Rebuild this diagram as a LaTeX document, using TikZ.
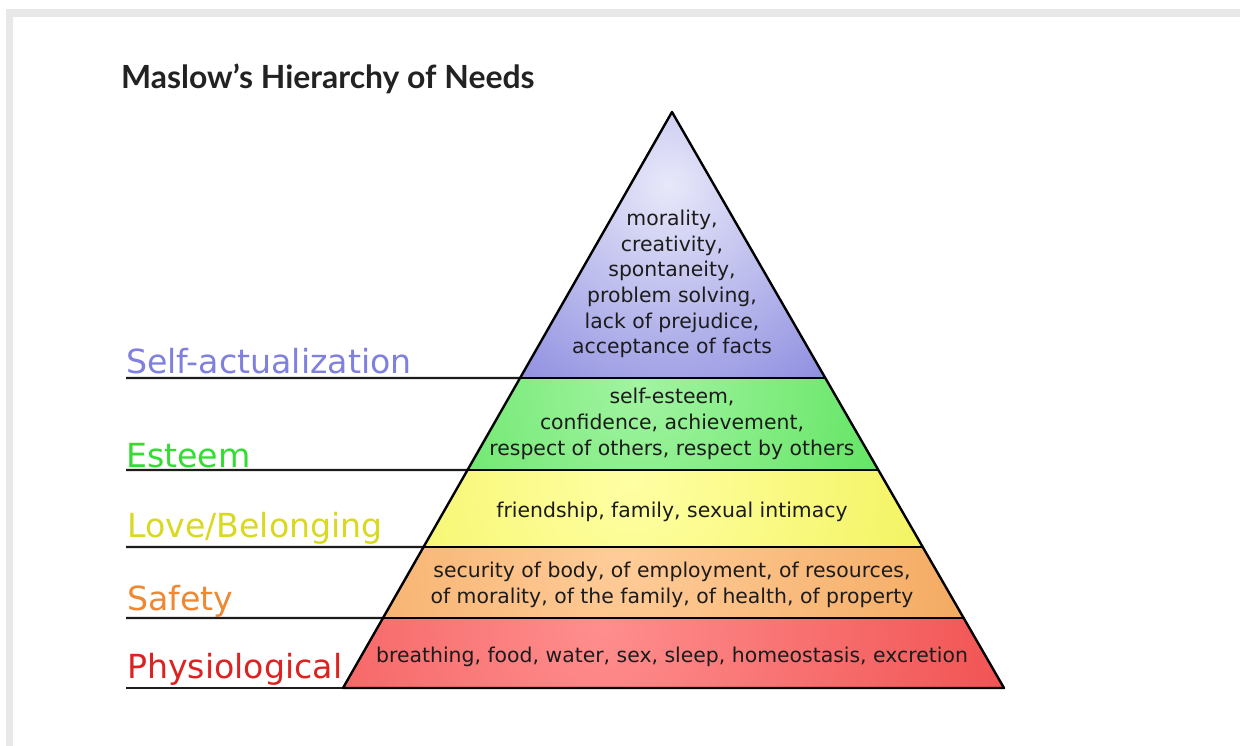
\documentclass[tikz,border=0pt]{standalone}
\usepackage{fontspec}
\setmainfont{DejaVu Sans}
\newfontfamily\titlefont{Lato}
\usetikzlibrary{calc}
\definecolor{framegray}{HTML}{E8E8E8}
\definecolor{titlegray}{HTML}{222222}
\definecolor{inktext}{HTML}{1C1C1C}
\definecolor{selfc}{HTML}{8080DE}
\definecolor{esteemc}{HTML}{33DD33}
\definecolor{lovec}{HTML}{D9D922}
\definecolor{safetyc}{HTML}{EE8833}
\definecolor{physc}{HTML}{DD2222}
\definecolor{selfout}{HTML}{7878DA}
\definecolor{selfin}{HTML}{E8E8FA}
\definecolor{esteemout}{HTML}{44DD44}
\definecolor{esteemin}{HTML}{A2F4A2}
\definecolor{loveout}{HTML}{EEEE44}
\definecolor{lovein}{HTML}{FFFFA4}
\definecolor{safetyout}{HTML}{F0A050}
\definecolor{safetyin}{HTML}{FFCC99}
\definecolor{physout}{HTML}{EE4646}
\definecolor{physin}{HTML}{FF8E8E}
\tikzset{
  levellabel/.style={anchor=base west, inner sep=0pt, font=\fontsize{33.2}{40}\selectfont},
  inner/.style={inner sep=0pt, align=center, text=inktext, font=\fontsize{20.4}{25.7}\selectfont},
  levelline/.style={draw=inktext, line width=2.2pt},
  outline/.style={draw=black, line width=2.4pt, line join=round},
}
\begin{document}
\begin{tikzpicture}[x=1pt,y=-1pt]
\useasboundingbox (0,0) rectangle (1240,746);
\fill[white] (0,0) rectangle (1240,746);
\fill[framegray] (6,9.5) rectangle (1240,17);
\fill[framegray] (6,9.5) rectangle (13,746);

\node[anchor=base west, inner sep=0pt, text=titlegray, font=\titlefont\bfseries\fontsize{31.9}{38}\selectfont] (title) at (121,89) {Maslow’s Hierarchy of Needs};

% pyramid corners
\coordinate (A) at (672,112);
\coordinate (BL) at (343,688);
\coordinate (BR) at (1004,688);
\coordinate (L1) at ($(A)!0.4618!(BL)$);
\coordinate (R1) at ($(A)!0.4618!(BR)$);
\coordinate (L2) at ($(A)!0.6215!(BL)$);
\coordinate (R2) at ($(A)!0.6215!(BR)$);
\coordinate (L3) at ($(A)!0.7552!(BL)$);
\coordinate (R3) at ($(A)!0.7552!(BR)$);
\coordinate (L4) at ($(A)!0.8785!(BL)$);
\coordinate (R4) at ($(A)!0.8785!(BR)$);

% fills
\begin{scope}
  \clip (A) -- (R1) -- (L1) -- cycle;
  \fill[selfout] (300,100) rectangle (1050,400);
  \shade[inner color=selfin, outer color=selfout] (668,185) circle (310);
\end{scope}
\begin{scope}
  \clip (L1) -- (R1) -- (R2) -- (L2) -- cycle;
  \fill[esteemout] (300,370) rectangle (1050,480);
  \shade[inner color=esteemin, outer color=esteemout] (640,385) circle (380);
\end{scope}
\begin{scope}
  \clip (L2) -- (R2) -- (R3) -- (L3) -- cycle;
  \fill[loveout] (300,460) rectangle (1050,560);
  \shade[inner color=lovein, outer color=loveout] (630,480) circle (440);
\end{scope}
\begin{scope}
  \clip (L3) -- (R3) -- (R4) -- (L4) -- cycle;
  \fill[safetyout] (300,540) rectangle (1050,630);
  \shade[inner color=safetyin, outer color=safetyout] (620,555) circle (460);
\end{scope}
\begin{scope}
  \clip (L4) -- (R4) -- (BR) -- (BL) -- cycle;
  \fill[physout] (300,610) rectangle (1050,700);
  \shade[inner color=physin, outer color=physout] (600,625) circle (500);
\end{scope}

% left label lines
\coordinate (S1) at (126,378);
\coordinate (S2) at (126,470);
\coordinate (S3) at (126,547);
\coordinate (S4) at (126,618);
\coordinate (S5) at (126,688);
\draw[levelline] (S1) -- (L1);
\draw[levelline] (S2) -- (L2);
\draw[levelline] (S3) -- (L3);
\draw[levelline] (S4) -- (L4);
\draw[levelline] (S5) -- (BL);

% pyramid outline and dividers
\draw[outline] (L1) -- (R1);
\draw[outline] (L2) -- (R2);
\draw[outline] (L3) -- (R3);
\draw[outline] (L4) -- (R4);
\draw[outline] (A) -- (BR) -- (BL) -- cycle;

% level labels
\node[levellabel, text=selfc] (lself) at (126,373) {Self-actualization};
\node[levellabel, text=esteemc] (lesteem) at (126,467) {Esteem};
\node[levellabel, text=lovec] (llove) at (127,537) {Love/Belonging};
\node[levellabel, text=safetyc] (lsafety) at (127,610) {Safety};
\node[levellabel, text=physc] (lphys) at (127,678) {Physiological};

% inner texts
\node[inner] (tself) at (672,284) {morality,\\creativity,\\spontaneity,\\problem solving,\\lack of prejudice,\\acceptance of facts};
\node[inner] (testeem) at (672,424) {self-esteem,\\confidence, achievement,\\respect of others, respect by others};
\node[inner, anchor=base] (tlove) at (672,517) {friendship, family, sexual intimacy};
\node[inner] (tsafety) at (672,585) {security of body, of employment, of resources,\\of morality, of the family, of health, of property};
\node[inner, anchor=base] (tphys) at (672,662) {breathing, food, water, sex, sleep, homeostasis, excretion};
\end{tikzpicture}
\end{document}
